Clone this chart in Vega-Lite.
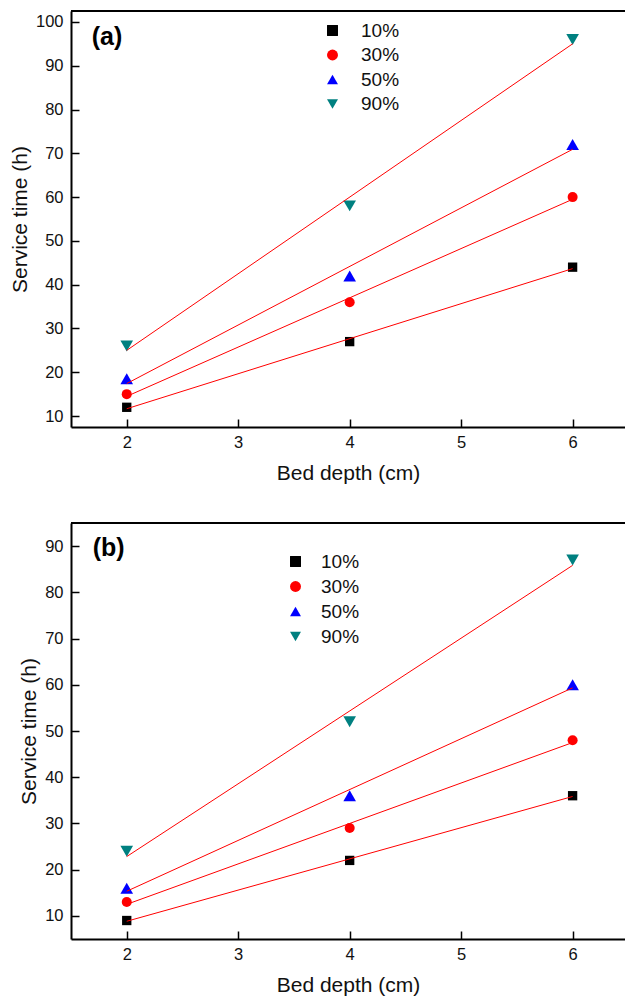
{
  "$schema": "https://vega.github.io/schema/vega-lite/v6.json",
  "padding": {"left": 9, "top": 10, "right": 0, "bottom": 0},
  "bounds": "flush",
  "spacing": 96,
  "datasets": {
    "panelA": [
      {"x": 2, "y": 12, "series": "10%"},
      {"x": 4, "y": 27, "series": "10%"},
      {"x": 6, "y": 44, "series": "10%"},
      {"x": 2, "y": 15, "series": "30%"},
      {"x": 4, "y": 36, "series": "30%"},
      {"x": 6, "y": 60, "series": "30%"},
      {"x": 2, "y": 18.5, "series": "50%"},
      {"x": 4, "y": 42, "series": "50%"},
      {"x": 6, "y": 72, "series": "50%"},
      {"x": 2, "y": 26, "series": "90%"},
      {"x": 4, "y": 58, "series": "90%"},
      {"x": 6, "y": 96, "series": "90%"}
    ],
    "panelB": [
      {"x": 2, "y": 9, "series": "10%"},
      {"x": 4, "y": 22, "series": "10%"},
      {"x": 6, "y": 36, "series": "10%"},
      {"x": 2, "y": 13, "series": "30%"},
      {"x": 4, "y": 29, "series": "30%"},
      {"x": 6, "y": 48, "series": "30%"},
      {"x": 2, "y": 16, "series": "50%"},
      {"x": 4, "y": 36, "series": "50%"},
      {"x": 6, "y": 60, "series": "50%"},
      {"x": 2, "y": 24, "series": "90%"},
      {"x": 4, "y": 52, "series": "90%"},
      {"x": 6, "y": 87, "series": "90%"}
    ]
  },
  "vconcat": [
    {
      "width": 554,
      "height": 416,
      "data": {"name": "panelA"},
      "layer": [
        {
          "mark": {"type": "rule", "color": "black", "strokeWidth": 2},
          "encoding": {"y": {"datum": 102.5, "type": "quantitative", "scale": {"domain": [7.5, 102.5], "nice": false}}}
        },
        {
          "mark": {"type": "point", "filled": true, "opacity": 1},
          "encoding": {
            "x": {"field": "x", "type": "quantitative", "title": "Bed depth (cm)", "scale": {"domain": [1.5, 6.47], "nice": false, "zero": false}, "axis": {"values": [2, 3, 4, 5, 6], "format": "d"}},
            "y": {"field": "y", "type": "quantitative", "title": "Service time (h)", "scale": {"domain": [7.5, 102.5], "nice": false, "zero": false}, "axis": {"values": [10, 20, 30, 40, 50, 60, 70, 80, 90, 100]}},
            "shape": {"field": "series", "type": "nominal", "scale": {"domain": ["10%", "30%", "50%", "90%"], "range": ["square", "circle", "triangle-up", "triangle-down"]},
              "legend": {"orient": "none", "legendX": 252, "legendY": 10, "title": null, "rowPadding": 4.5, "labelOffset": 19,
                "encode": {"symbols": {"update": {"size": {"signal": "datum.value === '10%' ? 87 : datum.value === '30%' ? 100 : 160"}}}}}},
            "color": {"field": "series", "type": "nominal", "scale": {"domain": ["10%", "30%", "50%", "90%"], "range": ["#000000", "#FF0000", "#0000FF", "#008080"]}},
            "size": {"condition": [{"test": "datum.series === '10%'", "value": 87}, {"test": "datum.series === '30%'", "value": 100}], "value": 160}
          }
        },
        {
          "transform": [{"regression": "y", "on": "x", "groupby": ["series"], "extent": [2, 6]}],
          "mark": {"type": "line", "color": "#FF0000", "strokeWidth": 1},
          "encoding": {
            "x": {"field": "x", "type": "quantitative", "title": "Bed depth (cm)"},
            "y": {"field": "y", "type": "quantitative", "title": "Service time (h)"},
            "detail": {"field": "series", "type": "nominal"}
          }
        },
        {
          "data": {"values": [{"x": 1.686, "y": 96.5, "tag": "(a)"}]},
          "mark": {"type": "text", "align": "left", "baseline": "middle", "fontWeight": "bold", "fontSize": 25, "color": "black"},
          "encoding": {
            "x": {"field": "x", "type": "quantitative", "title": "Bed depth (cm)"},
            "y": {"field": "y", "type": "quantitative", "title": "Service time (h)"},
            "text": {"field": "tag"}
          }
        }
      ]
    },
    {
      "width": 554,
      "height": 416,
      "data": {"name": "panelB"},
      "layer": [
        {
          "mark": {"type": "rule", "color": "black", "strokeWidth": 2},
          "encoding": {"y": {"datum": 95, "type": "quantitative", "scale": {"domain": [5, 95], "nice": false}}}
        },
        {
          "mark": {"type": "point", "filled": true, "opacity": 1},
          "encoding": {
            "x": {"field": "x", "type": "quantitative", "title": "Bed depth (cm)", "scale": {"domain": [1.5, 6.47], "nice": false, "zero": false}, "axis": {"values": [2, 3, 4, 5, 6], "format": "d"}},
            "y": {"field": "y", "type": "quantitative", "title": "Service time (h)", "scale": {"domain": [5, 95], "nice": false, "zero": false}, "axis": {"values": [10, 20, 30, 40, 50, 60, 70, 80, 90]}},
            "shape": {"field": "series", "type": "nominal", "scale": {"domain": ["10%", "30%", "50%", "90%"], "range": ["square", "circle", "triangle-up", "triangle-down"]},
              "legend": {"orient": "none", "legendX": 215, "legendY": 29, "title": null, "rowPadding": 5, "labelOffset": 16,
                "encode": {"symbols": {"update": {"size": {"signal": "datum.value === '10%' ? 87 : datum.value === '30%' ? 100 : 160"}}}}}},
            "color": {"field": "series", "type": "nominal", "scale": {"domain": ["10%", "30%", "50%", "90%"], "range": ["#000000", "#FF0000", "#0000FF", "#008080"]}},
            "size": {"condition": [{"test": "datum.series === '10%'", "value": 87}, {"test": "datum.series === '30%'", "value": 100}], "value": 160}
          }
        },
        {
          "transform": [{"regression": "y", "on": "x", "groupby": ["series"], "extent": [2, 6]}],
          "mark": {"type": "line", "color": "#FF0000", "strokeWidth": 1},
          "encoding": {
            "x": {"field": "x", "type": "quantitative", "title": "Bed depth (cm)"},
            "y": {"field": "y", "type": "quantitative", "title": "Service time (h)"},
            "detail": {"field": "series", "type": "nominal"}
          }
        },
        {
          "data": {"values": [{"x": 1.695, "y": 89.6, "tag": "(b)"}]},
          "mark": {"type": "text", "align": "left", "baseline": "middle", "fontWeight": "bold", "fontSize": 25, "color": "black"},
          "encoding": {
            "x": {"field": "x", "type": "quantitative", "title": "Bed depth (cm)"},
            "y": {"field": "y", "type": "quantitative", "title": "Service time (h)"},
            "text": {"field": "tag"}
          }
        }
      ]
    }
  ],
  "resolve": {"scale": {"x": "independent", "y": "independent", "shape": "independent", "color": "independent"}, "legend": {"shape": "independent", "color": "independent"}},
  "config": {
    "font": "Liberation Sans",
    "view": {"stroke": null},
    "axis": {
      "grid": false,
      "domainColor": "black",
      "domainWidth": 2,
      "tickColor": "black",
      "tickWidth": 1.5,
      "tickSize": -8,
      "labelFontSize": 16.5,
      "labelColor": "#111111",
      "titleFontSize": 21,
      "titleFontWeight": "normal",
      "titleColor": "#111111"
    },
    "axisX": {"labelPadding": 15, "titlePadding": 12},
    "axisY": {"labelPadding": 16, "titlePadding": 5},
    "legend": {
      "labelFontSize": 19,
      "labelColor": "#111111",
      "padding": 0,
      "symbolSize": 120,
      "symbolStrokeWidth": 0,
      "symbolOpacity": 1
    }
  }
}
